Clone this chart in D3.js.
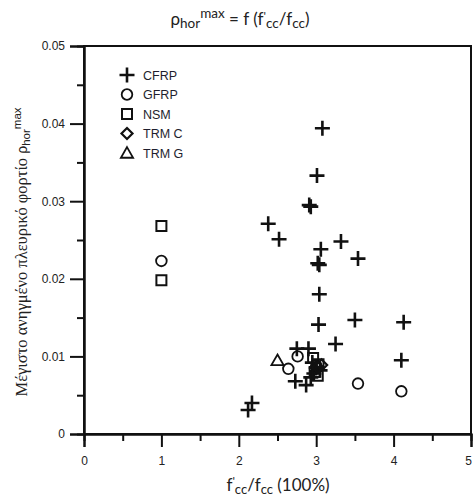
<!DOCTYPE html>
<html>
<head>
<meta charset="utf-8">
<script src="https://cdn.jsdelivr.net/npm/d3@7"></script>
<style>
  body { margin: 0; background: #fff; }
  svg { display: block; }
</style>
</head>
<body>
<div id="chart"></div>
<script>
"use strict";

// === Data: [f'cc/fcc, rho_hor max] ===
const cfrp = [
  [3.08, 0.0394], [3.01, 0.0333], [2.91, 0.0295], [2.93, 0.0293],
  [2.38, 0.0271], [2.52, 0.0251], [3.32, 0.0248], [3.06, 0.0238],
  [3.54, 0.0226], [3.02, 0.0220], [3.04, 0.0218], [3.04, 0.0180],
  [3.03, 0.0141], [3.50, 0.0147], [4.13, 0.0144], [3.25, 0.0116],
  [4.10, 0.0095], [2.75, 0.0110], [2.90, 0.0110], [2.73, 0.0068],
  [2.87, 0.0063], [2.17, 0.0040], [2.12, 0.0031],
  [2.95, 0.0092], [3.00, 0.0085], [2.97, 0.0078], [3.05, 0.0082], [2.93, 0.0073]
];
const gfrp = [
  [1.00, 0.0223], [2.76, 0.0100], [2.64, 0.0084], [3.54, 0.0065],
  [4.10, 0.0055], [3.00, 0.0088]
];
const nsm = [
  [1.00, 0.0268], [1.00, 0.0198], [2.96, 0.0098], [3.03, 0.0090],
  [2.98, 0.0080], [3.02, 0.0075]
];
const trmC = [[3.07, 0.0089], [3.02, 0.0086]];
const trmG = [[2.50, 0.0095]];

const seriesNames = ["CFRP", "GFRP", "NSM", "TRM C", "TRM G"];
const xTicks = [0, 1, 2, 3, 4, 5];
const yTicks = [0, 0.01, 0.02, 0.03, 0.04, 0.05];

// === SVG setup ===
const width = 473, height = 497;
const plot = { left: 84, right: 471, top: 46, bottom: 434 };

const svg = d3.select("#chart")
  .append("svg")
  .attr("width", width)
  .attr("height", height);

const x = d3.scaleLinear().domain([0, 5]).range([plot.left, plot.right]);
const y = d3.scaleLinear().domain([0, 0.05]).range([plot.bottom, plot.top]);

// === Marker shapes (paths around 0,0) ===
const shapes = {
  plus: s => `M${-s},0H${s}M0,${-s}V${s}`,
  circle: s => `M${s},0A${s},${s},0,1,1,${-s},0A${s},${s},0,1,1,${s},0Z`,
  square: s => `M${-s},${-s}H${s}V${s}H${-s}Z`,
  diamond: s => `M0,${-s * 1.2}L${s * 1.2},0L0,${s * 1.2}L${-s * 1.2},0Z`,
  triangle: s => `M0,${-s * 1.1}L${s * 1.15},${s * 0.9}L${-s * 1.15},${s * 0.9}Z`
};
const series = [
  { name: seriesNames[0], data: cfrp, shape: "plus", size: 7.5, sw: 2.6 },
  { name: seriesNames[1], data: gfrp, shape: "circle", size: 5.3, sw: 1.8 },
  { name: seriesNames[2], data: nsm, shape: "square", size: 5, sw: 2 },
  { name: seriesNames[3], data: trmC, shape: "diamond", size: 4.6, sw: 2.2 },
  { name: seriesNames[4], data: trmG, shape: "triangle", size: 5.3, sw: 1.8 }
];

// === Axes ===
const minorX = d3.range(0.5, 5, 1);
const minorY = d3.range(0.005, 0.05, 0.01);

svg.append("g")
  .attr("transform", `translate(0,${plot.bottom})`)
  .call(d3.axisBottom(x).tickValues(minorX).tickSize(7).tickFormat(""));
svg.append("g")
  .attr("class", "x-axis")
  .attr("transform", `translate(0,${plot.bottom})`)
  .call(d3.axisBottom(x).tickValues(xTicks).tickSize(13).tickPadding(9).tickFormat(d3.format("d")));

svg.append("g")
  .attr("transform", `translate(${plot.left},0)`)
  .call(d3.axisLeft(y).tickValues(minorY).tickSize(7).tickFormat(""));
svg.append("g")
  .attr("class", "y-axis")
  .attr("transform", `translate(${plot.left},0)`)
  .call(d3.axisLeft(y).tickValues(yTicks).tickSize(14).tickPadding(5).tickFormat(d => d === 0 ? "0" : d3.format(".2f")(d)));

svg.selectAll(".tick line").attr("stroke", "#111").attr("stroke-width", 2);
svg.selectAll(".domain").attr("stroke", "#111").attr("stroke-width", 2);
svg.selectAll(".tick text")
  .attr("font-family", "Liberation Sans, Arial, sans-serif")
  .attr("font-size", 12)
  .attr("fill", "#222");
// last x label sits on the right edge, pull it in a bit
svg.selectAll(".x-axis .tick text").filter(d => d === 5).attr("dx", -3);

// frame
svg.append("rect")
  .attr("x", plot.left)
  .attr("y", plot.top)
  .attr("width", plot.right - plot.left)
  .attr("height", plot.bottom - plot.top)
  .attr("fill", "none")
  .attr("stroke", "#111")
  .attr("stroke-width", 2);

// === Points ===
series.forEach(s => {
  svg.append("g")
    .selectAll("path")
    .data(s.data)
    .enter()
    .append("path")
    .attr("transform", d => `translate(${x(d[0])},${y(d[1])})`)
    .attr("d", shapes[s.shape](s.size))
    .attr("fill", "none")
    .attr("stroke", "#111")
    .attr("stroke-width", s.sw);
});

// === Legend ===
series.forEach((s, i) => {
  const ly = 75 + i * 19.5;
  svg.append("path")
    .attr("transform", `translate(127,${ly})`)
    .attr("d", shapes[s.shape](s.size))
    .attr("fill", "none")
    .attr("stroke", "#111")
    .attr("stroke-width", s.sw);
  svg.append("text")
    .attr("x", 143)
    .attr("y", ly + 4.5)
    .attr("font-family", "Liberation Sans, Arial, sans-serif")
    .attr("font-size", 12.5)
    .attr("fill", "#1e1e2e")
    .text(s.name);
});

// === Title ===
const title = svg.append("text")
  .attr("x", 240)
  .attr("y", 25)
  .attr("text-anchor", "middle")
  .attr("font-family", "Lato, Open Sans, sans-serif")
  .attr("font-size", 17)
  .attr("fill", "#222");
title.append("tspan").text("ρ");
title.append("tspan").attr("dy", 3).attr("font-size", 13.5).text("hor");
title.append("tspan").attr("dy", -10).attr("font-size", 13.5).text("max");
title.append("tspan").attr("dy", 7).text(" = f (f");
title.append("tspan").attr("dy", -5).attr("font-size", 12).text("'");
title.append("tspan").attr("dy", 8).attr("font-size", 13.5).text("cc");
title.append("tspan").attr("dy", -3).text("/f");
title.append("tspan").attr("dy", 3).attr("font-size", 13.5).text("cc");
title.append("tspan").attr("dy", -3).text(")");

// === X label ===
const xl = svg.append("text")
  .attr("x", 278)
  .attr("y", 491)
  .attr("text-anchor", "middle")
  .attr("font-family", "Lato, Open Sans, sans-serif")
  .attr("font-size", 17)
  .attr("fill", "#222");
xl.append("tspan").text("f");
xl.append("tspan").attr("dy", -6).attr("font-size", 12).text("'");
xl.append("tspan").attr("dy", 9).attr("font-size", 13).text("cc");
xl.append("tspan").attr("dy", -3).text("/f");
xl.append("tspan").attr("dy", 3).attr("font-size", 13).text("cc");
xl.append("tspan").attr("dy", -3).text(" (100%)");

// === Y label ===
const yl = svg.append("text")
  .attr("transform", "translate(27,252) rotate(-90)")
  .attr("text-anchor", "middle")
  .attr("font-family", "Liberation Serif, Times New Roman, serif")
  .attr("font-size", 16.5)
  .attr("fill", "#222");
yl.append("tspan").text("Μέγιστο ανηγμένο πλευρικό φορτίο ");
yl.append("tspan").attr("font-family", "Liberation Sans, Arial, sans-serif").attr("font-size", 14).text("ρ");
yl.append("tspan").attr("dy", 3).attr("font-family", "Liberation Sans, Arial, sans-serif").attr("font-size", 11.5).text("hor");
yl.append("tspan").attr("dy", -9).attr("font-family", "Liberation Sans, Arial, sans-serif").attr("font-size", 11.5).text("max");
</script>
</body>
</html>
